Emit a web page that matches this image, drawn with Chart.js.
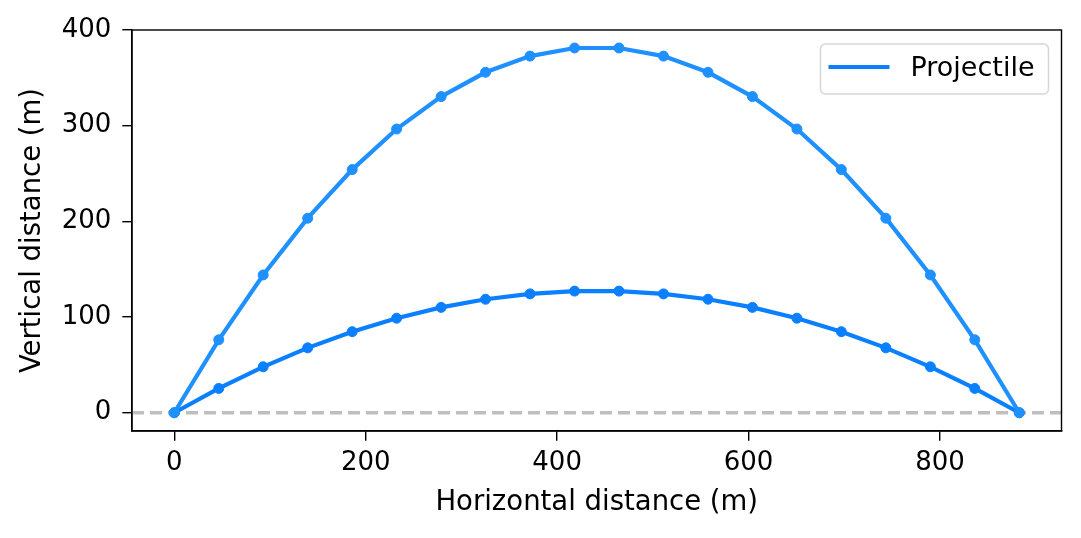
<!DOCTYPE html>
<html>
<head>
<meta charset="utf-8">
<script src="https://cdn.jsdelivr.net/npm/chart.js@4"></script>
<style>
  html, body { margin: 0; padding: 0; background: #fff; }
  #wrap { width: 1081px; height: 538px; }
</style>
</head>
<body>
<div id="wrap"><canvas id="chart" width="1081" height="538"></canvas></div>
<script>
// horizontal distance of each sample (m)
const xValues = [0, 46.5, 92.9, 139.4, 185.9, 232.3, 278.8, 325.2, 371.7, 418.2,
  464.6, 511.1, 557.6, 604.0, 650.5, 696.9, 743.4, 789.9, 836.3, 882.8];
// steep launch (upper arc)
const highArc = [0, 76.2, 144.0, 203.3, 254.1, 296.5, 330.4, 355.8, 372.7, 381.2,
  381.2, 372.7, 355.8, 330.4, 296.5, 254.1, 203.3, 144.0, 76.2, 0];
// shallow launch (lower arc)
const lowArc = [0, 25.4, 48.0, 67.8, 84.7, 98.8, 110.1, 118.6, 124.2, 127.1,
  127.1, 124.2, 118.6, 110.1, 98.8, 84.7, 67.8, 48.0, 25.4, 0];
const xTicks = [0, 200, 400, 600, 800];
const yTicks = [0, 100, 200, 300, 400];
const legendLabel = "Projectile";

const FONT = "'DejaVu Sans', sans-serif";
const TICK_FS = 26;
const TITLE_FS = 27.5;

function toPoints(ys) {
  return xValues.map((x, i) => ({ x: x, y: ys[i] }));
}

// dashed ground line + frame + legend box
const extras = {
  id: "extras",
  beforeDatasetsDraw(chart) {
    const ctx = chart.ctx, a = chart.chartArea;
    const y0 = chart.scales.y.getPixelForValue(0);
    ctx.save();
    ctx.strokeStyle = "#bfbfbf";
    ctx.lineWidth = 3.5;
    ctx.setLineDash([12, 6]);
    ctx.beginPath();
    ctx.moveTo(a.left, y0);
    ctx.lineTo(a.right, y0);
    ctx.stroke();
    ctx.restore();
  },
  afterDraw(chart) {
    const ctx = chart.ctx, a = chart.chartArea;
    ctx.save();
    ctx.strokeStyle = "#000";
    ctx.lineWidth = 1.4;
    ctx.strokeRect(a.left, a.top, a.right - a.left, a.bottom - a.top);

    // legend
    const bx = a.right - 241, by = a.top + 14, bw = 228, bh = 50;
    ctx.fillStyle = "rgba(255,255,255,0.8)";
    ctx.strokeStyle = "#d6d6d6";
    ctx.lineWidth = 1.5;
    ctx.beginPath();
    ctx.roundRect(bx, by, bw, bh, 5);
    ctx.fill();
    ctx.stroke();
    ctx.strokeStyle = "#0a80ff";
    ctx.lineWidth = 4.2;
    ctx.beginPath();
    ctx.moveTo(bx + 8, by + 23);
    ctx.lineTo(bx + 69, by + 23);
    ctx.stroke();
    ctx.fillStyle = "#000";
    ctx.font = "27px " + FONT;
    ctx.textBaseline = "middle";
    ctx.fillText(legendLabel, bx + 90, by + 25);
    ctx.restore();
  }
};

new Chart(document.getElementById("chart"), {
  type: "scatter",
  data: {
    datasets: [
      {
        label: "high",
        data: toPoints(highArc),
        showLine: true,
        borderColor: "#1e90ff",
        backgroundColor: "#1e90ff",
        borderWidth: 4.2,
        pointRadius: 5,
        pointBorderWidth: 1,
        pointHoverRadius: 5,
        clip: false
      },
      {
        label: legendLabel,
        data: toPoints(lowArc),
        showLine: true,
        borderColor: "#0a80ff",
        backgroundColor: "#0a80ff",
        borderWidth: 4.2,
        pointRadius: 5,
        pointBorderWidth: 1,
        pointHoverRadius: 5,
        clip: false
      }
    ]
  },
  options: {
    responsive: false,
    animation: false,
    layout: { padding: { top: 30, right: 19.5, left: 16, bottom: 19 } },
    plugins: {
      legend: { display: false },
      tooltip: { enabled: false }
    },
    scales: {
      x: {
        type: "linear",
        min: -44.14,
        max: 926.9,
        afterBuildTicks: (s) => { s.ticks = xTicks.map(v => ({ value: v })); },
        afterFit: (s) => { s.height = 88; },
        grid: { drawOnChartArea: false, drawTicks: true, tickLength: 9.7, color: "#000", lineWidth: 1.4 },
        border: { display: true, color: "#000", width: 1.4 },
        ticks: { color: "#000", font: { family: FONT, size: TICK_FS }, padding: 7, maxRotation: 0 },
        title: { display: true, text: "Horizontal distance (m)", color: "#000", font: { family: FONT, size: TITLE_FS }, padding: 0 }
      },
      y: {
        type: "linear",
        min: -19.1,
        max: 400,
        afterBuildTicks: (s) => { s.ticks = yTicks.map(v => ({ value: v })); },
        afterFit: (s) => { s.width = 116; },
        grid: { drawOnChartArea: false, drawTicks: true, tickLength: 9.7, color: "#000", lineWidth: 1.4 },
        border: { display: true, color: "#000", width: 1.4 },
        ticks: { color: "#000", font: { family: FONT, size: TICK_FS }, padding: 11 },
        title: { display: true, text: "Vertical distance (m)", color: "#000", font: { family: FONT, size: TITLE_FS }, padding: 0 }
      }
    }
  },
  plugins: [extras]
});
</script>
</body>
</html>
